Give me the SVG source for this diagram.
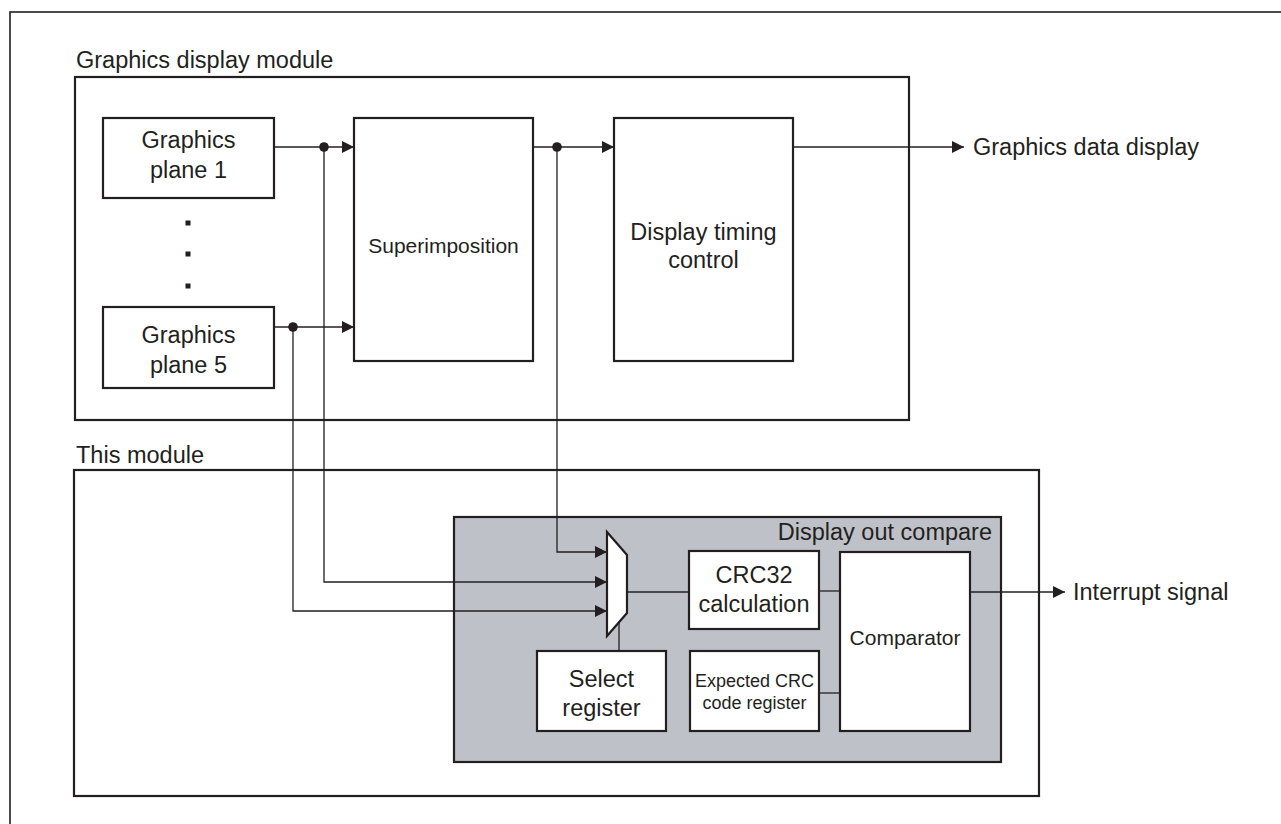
<svg xmlns="http://www.w3.org/2000/svg" width="1281" height="824" viewBox="0 0 1281 824">
<defs>
<style>
.t{font-family:"Liberation Sans",Arial,sans-serif;font-size:23.5px;fill:#231f20}
.m{text-anchor:middle}
.s{font-size:21px}
.xs{font-size:18px}
.box{fill:#fff;stroke:#231f20;stroke-width:2.2}
.mod{fill:none;stroke:#231f20;stroke-width:2.2}
.ln{fill:none;stroke:#231f20;stroke-width:1.3}
.dot{fill:#231f20}
</style>
<marker id="ah" viewBox="0 0 12 12" refX="12" refY="6" markerWidth="12" markerHeight="12" markerUnits="userSpaceOnUse" orient="auto">
<path d="M0,0 L12,6 L0,12 Z" fill="#231f20"/>
</marker>
</defs>
<rect x="0" y="0" width="1281" height="824" fill="#fff"/>
<rect x="10" y="12" width="1300" height="860" fill="none" stroke="#231f20" stroke-width="1.6"/>

<g id="graphics-display-module">
<text class="t" x="76" y="68">Graphics display module</text>
<rect class="mod" x="75" y="77" width="834" height="343"/>
</g>
<g id="this-module">
<text class="t" x="76" y="463">This module</text>
<rect class="mod" x="74" y="470" width="965" height="326"/>
</g>
<g id="display-out-compare">
<rect x="454" y="517" width="547" height="245" fill="#bfc1c8" stroke="#231f20" stroke-width="2.2"/>
<text class="t" x="992" y="540" text-anchor="end">Display out compare</text>
</g>

<g id="graphics-plane-1">
<rect class="box" x="103" y="118" width="171" height="80"/>
<text class="t m" x="188.5" y="148">Graphics</text>
<text class="t m" x="188.5" y="178">plane 1</text>
</g>
<g id="ellipsis">
<rect class="dot" x="185.5" y="220.5" width="5" height="5"/>
<rect class="dot" x="185.5" y="251.5" width="5" height="5"/>
<rect class="dot" x="185.5" y="283.5" width="5" height="5"/>
</g>
<g id="graphics-plane-5">
<rect class="box" x="103" y="307" width="171" height="81"/>
<text class="t m" x="188.5" y="343">Graphics</text>
<text class="t m" x="188.5" y="373">plane 5</text>
</g>
<g id="superimposition">
<rect class="box" x="354" y="118" width="179" height="243"/>
<text class="t m s" x="443.5" y="253">Superimposition</text>
</g>
<g id="display-timing-control">
<rect class="box" x="614" y="118" width="179" height="243"/>
<text class="t m" x="703.5" y="240">Display timing</text>
<text class="t m" x="703.5" y="268">control</text>
</g>
<g id="graphics-data-display">
<text class="t" x="973" y="155">Graphics data display</text>
</g>

<g id="mux">
<polygon points="607,532 627,555 627,613 607,636" fill="#fff" stroke="#231f20" stroke-width="2.2" stroke-linejoin="miter"/>
</g>
<g id="crc32-calculation">
<rect class="box" x="689" y="551" width="130" height="78"/>
<text class="t m" x="754" y="583">CRC32</text>
<text class="t m" x="754" y="612">calculation</text>
</g>
<g id="comparator">
<rect class="box" x="840" y="552" width="130" height="179"/>
<text class="t m s" x="905" y="645">Comparator</text>
</g>
<g id="select-register">
<rect class="box" x="537" y="651" width="129" height="80"/>
<text class="t m" x="601.5" y="687">Select</text>
<text class="t m" x="601.5" y="716">register</text>
</g>
<g id="expected-crc-code-register">
<rect class="box" x="690" y="651" width="129" height="80"/>
<text class="t m xs" x="754.5" y="687">Expected CRC</text>
<text class="t m xs" x="754.5" y="709">code register</text>
</g>
<g id="interrupt-signal">
<text class="t" x="1073" y="600">Interrupt signal</text>
</g>

<g id="connectors">
<path class="ln" d="M274,147 H354" marker-end="url(#ah)"/>
<path class="ln" d="M274,327 H354" marker-end="url(#ah)"/>
<path class="ln" d="M533,147 H614" marker-end="url(#ah)"/>
<path class="ln" d="M793,147 H964" marker-end="url(#ah)"/>
<path class="ln" d="M557,147 V552 H607" marker-end="url(#ah)"/>
<path class="ln" d="M324,147 V582 H607" marker-end="url(#ah)"/>
<path class="ln" d="M293,327 V611 H607" marker-end="url(#ah)"/>
<path class="ln" d="M627,592 H689"/>
<path class="ln" d="M619,622 V651"/>
<path class="ln" d="M819,591 H840"/>
<path class="ln" d="M819,693 H840"/>
<path class="ln" d="M970,592 H1065" marker-end="url(#ah)"/>
<circle class="dot" cx="324" cy="147" r="4.8"/>
<circle class="dot" cx="293" cy="327" r="4.8"/>
<circle class="dot" cx="557" cy="147" r="4.8"/>
</g>
</svg>
